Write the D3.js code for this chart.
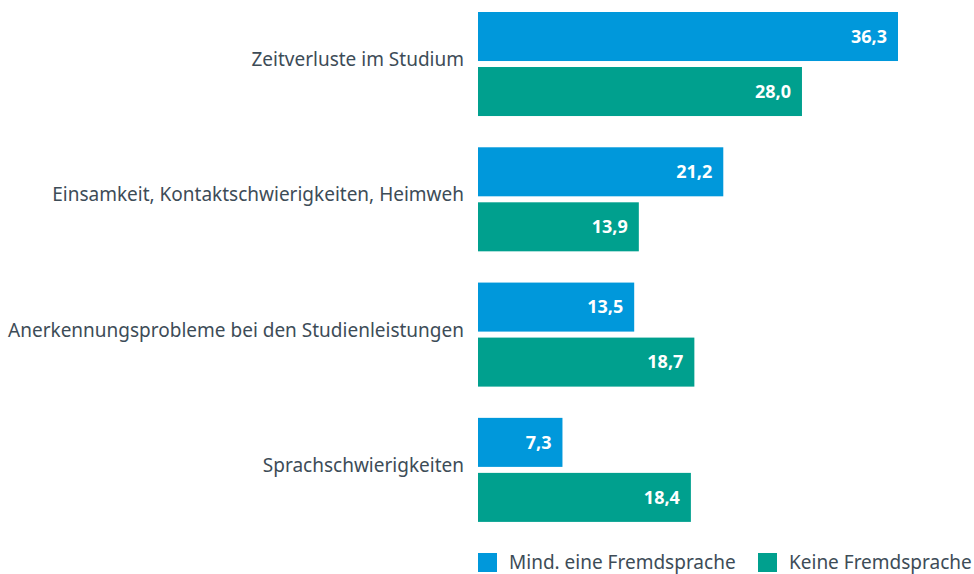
<!DOCTYPE html>
<html>
<head>
<meta charset="utf-8">
<script src="https://cdn.jsdelivr.net/npm/d3@7"></script>
<style>
  body { margin: 0; background: #fff; }
  svg { display: block; font-family: "Noto Sans", sans-serif; }
</style>
</head>
<body>
<svg width="974" height="574"></svg>
<script>
var categories = ["Zeitverluste im Studium", "Einsamkeit, Kontaktschwierigkeiten, Heimweh",
                  "Anerkennungsprobleme bei den Studienleistungen", "Sprachschwierigkeiten"];
var seriesNames = ["Mind. eine Fremdsprache", "Keine Fremdsprache"];
var fremdsprache = [36.3, 21.2, 13.5, 7.3];
var keine = [28.0, 13.9, 18.7, 18.4];
var colors = ["#0098db", "#00a08e"];

var svg = d3.select("svg");
var left = 478, topY = 12;
var rows = categories.map(function(c, i) { return {cat: c, vals: [fremdsprache[i], keine[i]]}; });

var x = d3.scaleLinear().domain([0, 36.3]).range([0, 420]);
var y0 = d3.scaleBand().domain(categories).range([topY, topY + 3 * 135.3 + 104]).paddingInner(0.231).paddingOuter(0);
var y1 = d3.scaleBand().domain([0, 1]).range([0, y0.bandwidth()]).paddingInner(0.109);

var fmt = function(v) { return d3.format(".1f")(v).replace(".", ","); };

var g = svg.selectAll(".grp").data(rows).enter().append("g")
    .attr("transform", function(d) { return "translate(" + left + "," + y0(d.cat) + ")"; });

// category labels sit a bit above the group's middle
g.append("text")
    .attr("x", -14)
    .attr("y", y0.bandwidth() / 2 + 2)
    .attr("text-anchor", "end")
    .attr("fill", "#3d4c57")
    .style("font-size", "19px")
    .text(function(d) { return d.cat; });

var bar = g.selectAll(".bar").data(function(d) { return d.vals; }).enter().append("g");

bar.append("rect")
    .attr("x", 0)
    .attr("y", function(d, i) { return y1(i); })
    .attr("width", function(d) { return x(d); })
    .attr("height", y1.bandwidth())
    .attr("fill", function(d, i) { return colors[i]; });

bar.append("text")
    .attr("x", function(d) { return x(d) - 11; })
    .attr("y", function(d, i) { return y1(i) + y1.bandwidth() / 2; })
    .attr("dy", "0.35em")
    .attr("text-anchor", "end")
    .attr("fill", "#fff")
    .style("font-size", "18px")
    .style("font-weight", "bold")
    .text(fmt);

// legend
var legX = [478, 758];
var leg = svg.selectAll(".leg").data(seriesNames).enter().append("g")
    .attr("transform", function(d, i) { return "translate(" + legX[i] + ",553)"; });
leg.append("rect").attr("width", 19).attr("height", 19).attr("fill", function(d, i) { return colors[i]; });
leg.append("text")
    .attr("x", 31)
    .attr("y", 9)
    .attr("dy", "0.35em")
    .attr("fill", "#3d4c57")
    .style("font-size", "19px")
    .text(function(d) { return d; });
</script>
</body>
</html>
